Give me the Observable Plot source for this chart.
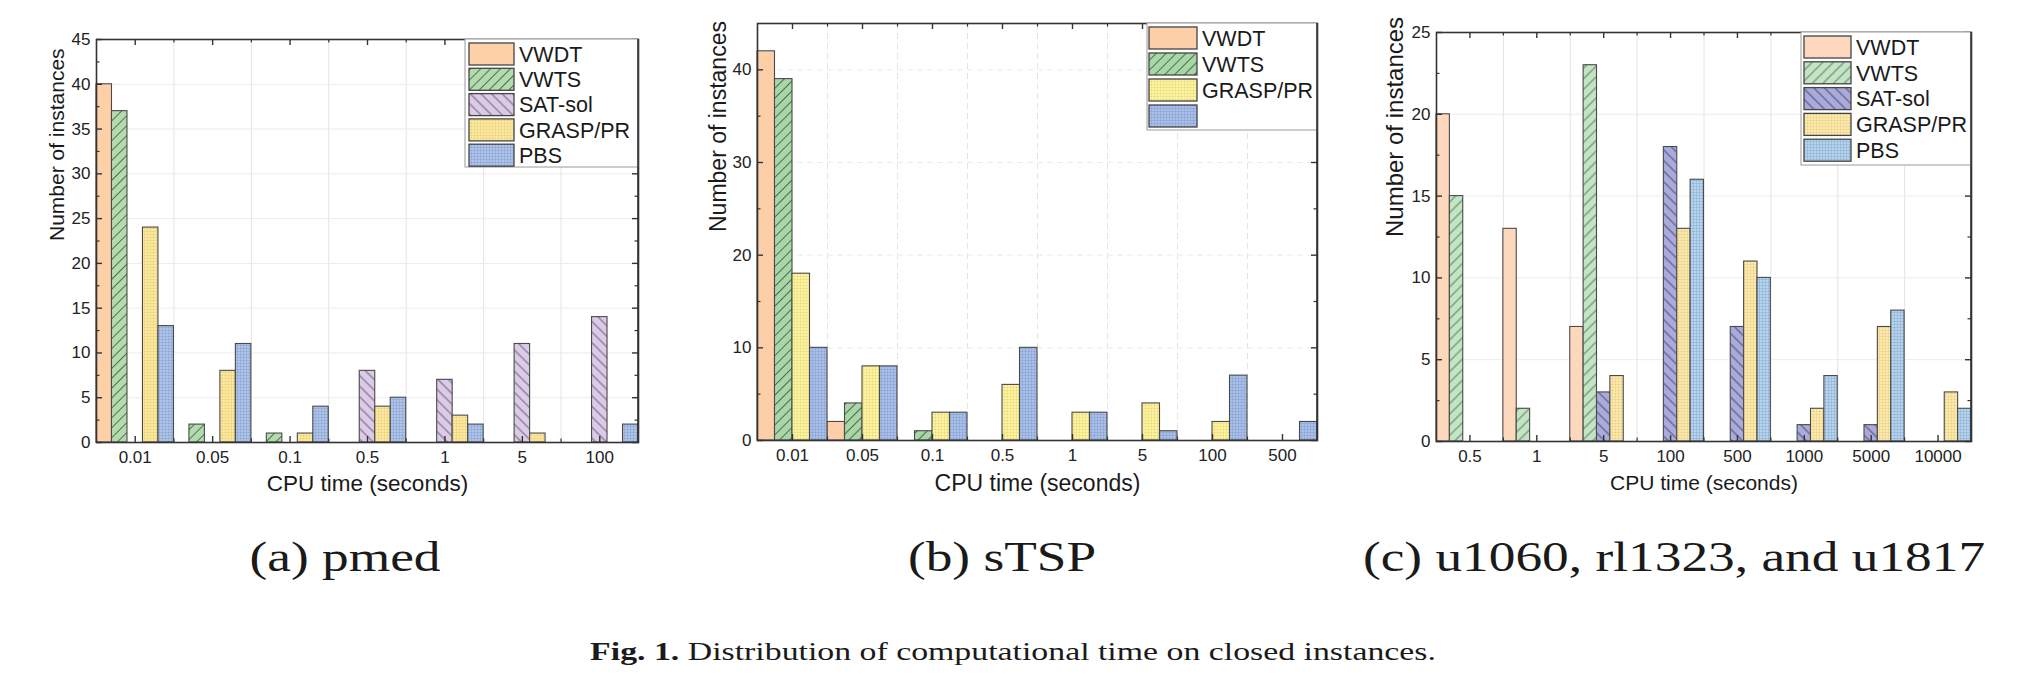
<!DOCTYPE html>
<html><head><meta charset="utf-8">
<script src="https://cdn.jsdelivr.net/npm/d3@7"></script>
<script src="https://cdn.jsdelivr.net/npm/@observablehq/plot@0.6"></script>
<style>
body{margin:0;background:#fff;}
#root{position:relative;width:2024px;height:686px;overflow:hidden;background:#fff;}
.panel{position:absolute;top:0;}
.cap{position:absolute;font-family:"Liberation Serif","Times New Roman",serif;color:#1a1a1a;white-space:nowrap;line-height:1;}
</style></head><body><div id="root"></div>
<script>
// ---------- data ----------
const catsA = ["0.01","0.05","0.1","0.5","1","5","100"];
const seriesA = ["VWDT","VWTS","SAT-sol","GRASP/PR","PBS"];
const vwdtA  = [40, 0, 0, 0, 0, 0, 0];
const vwtsA  = [37, 2, 1, 0, 0, 0, 0];
const satA   = [ 0, 0, 0, 8, 7, 11, 14];
const graspA = [24, 8, 1, 4, 3, 1, 0];
const pbsA   = [13, 11, 4, 5, 2, 0, 2];
const yTicksA = [0,5,10,15,20,25,30,35,40,45];

const catsB = ["0.01","0.05","0.1","0.5","1","5","100","500"];
const seriesB = ["VWDT","VWTS","GRASP/PR","PBS"];
const legendLabelsB = ["VWDT","VWTS","GRASP/PR",""];
const vwdtB  = [42, 2, 0, 0, 0, 0, 0, 0];
const vwtsB  = [39, 4, 1, 0, 0, 0, 0, 0];
const graspB = [18, 8, 3, 6, 3, 4, 2, 0];
const pbsB   = [10, 8, 3, 10, 3, 1, 7, 2];
const yTicksB = [0,10,20,30,40];

const catsC = ["0.5","1","5","100","500","1000","5000","10000"];
const seriesC = ["VWDT","VWTS","SAT-sol","GRASP/PR","PBS"];
const vwdtC  = [20, 13, 7, 0, 0, 0, 0, 0];
const vwtsC  = [15, 2, 23, 0, 0, 0, 0, 0];
const satC   = [ 0, 0, 3, 18, 7, 1, 1, 0];
const graspC = [ 0, 0, 4, 13, 11, 2, 7, 3];
const pbsC   = [ 0, 0, 0, 16, 10, 4, 8, 2];
const yTicksC = [0,5,10,15,20,25];

const xTitle = "CPU time (seconds)";
const yTitle = "Number of instances";
const subCaptions = ["(a) pmed", "(b) sTSP", "(c) u1060, rl1323, and u1817"];
const figLabel = "Fig. 1.";
const figText = "Distribution of computational time on closed instances.";

// ---------- helpers ----------
function addPattern(defs, id, spec) {
  const s = spec.spacing || 6;
  const p = defs.append("pattern").attr("id", id)
    .attr("patternUnits", "userSpaceOnUse").attr("width", s).attr("height", s);
  if (spec.type === "fwd") p.attr("patternTransform", "rotate(45)");
  if (spec.type === "back") p.attr("patternTransform", "rotate(-45)");
  p.append("rect").attr("width", s).attr("height", s).attr("fill", spec.bg);
  if (spec.type === "fwd" || spec.type === "back") {
    p.append("line").attr("x1", s/2).attr("x2", s/2).attr("y1", -1).attr("y2", s+1)
      .attr("stroke", spec.line).attr("stroke-width", spec.lw || 0.9).attr("stroke-opacity", spec.lo || 0.85);
  } else if (spec.type === "grid") {
    p.append("path").attr("d", `M0,0.5H${s}M0.5,0V${s}`).attr("fill", "none")
      .attr("stroke", spec.line).attr("stroke-width", 0.7).attr("stroke-opacity", 0.22);
  }
}

function makePanel(cfg) {
  const n = cfg.cats.length, ns = cfg.series.length;
  const pw = cfg.width - cfg.ml - cfg.mr, ph = cfg.height - cfg.mt - cfg.mb;
  const centers = d3.range(n).map(i => i + 0.5);
  const bounds = d3.range(1, n);
  const yMinor = d3.range(cfg.yMinorStep, cfg.yMax, cfg.yMinorStep).filter(v => !cfg.yTicks.includes(v));
  const marks = [];
  // faint grid
  marks.push(Plot.ruleX(bounds, {stroke: "#e4e4e4", strokeWidth: 1, strokeDasharray: cfg.gridDash || null}));
  marks.push(Plot.ruleY(cfg.yTicks.filter(v => v > 0 && v < cfg.yMax), {stroke: "#ececec", strokeWidth: 1, strokeDasharray: cfg.gridDash || null}));
  // bars
  cfg.values.forEach((vals, j) => {
    const rows = vals.map((v, i) => ({i, j, v})).filter(d => d.v > 0);
    marks.push(Plot.rect(rows, {
      x1: d => d.i + d.j / ns, x2: d => d.i + (d.j + 1) / ns,
      y1: 0, y2: d => d.v,
      fill: `url(#${cfg.id}-p${j})`, stroke: "#4a4a4a", strokeWidth: 1.1
    }));
  });
  // inward ticks
  const tc = "#333";
  marks.push(Plot.tickY(cfg.yTicks, {y: d => d, insetRight: pw - 6, stroke: tc, strokeWidth: 1.4}));
  marks.push(Plot.tickY(cfg.yTicks, {y: d => d, insetLeft: pw - 6, stroke: tc, strokeWidth: 1.4}));
  marks.push(Plot.tickY(yMinor, {y: d => d, insetRight: pw - 3.5, stroke: tc, strokeWidth: 1.2}));
  marks.push(Plot.tickY(yMinor, {y: d => d, insetLeft: pw - 3.5, stroke: tc, strokeWidth: 1.2}));
  marks.push(Plot.tickX(centers, {x: d => d, insetTop: ph - 6, stroke: tc, strokeWidth: 1.4}));
  marks.push(Plot.tickX(centers, {x: d => d, insetBottom: ph - 6, stroke: tc, strokeWidth: 1.4}));
  marks.push(Plot.tickX(bounds, {x: d => d, insetTop: ph - 3.5, stroke: tc, strokeWidth: 1.2}));
  marks.push(Plot.tickX(bounds, {x: d => d, insetBottom: ph - 3.5, stroke: tc, strokeWidth: 1.2}));
  marks.push(Plot.frame({stroke: "#333", strokeWidth: 1.6}));
  // axis titles
  marks.push(Plot.text([yTitle], {frameAnchor: "left", dx: cfg.yTitleDx, rotate: -90, lineAnchor: "middle", fontSize: cfg.yTitleSize, fill: "#1a1a1a"}));
  marks.push(Plot.text([xTitle], {frameAnchor: "bottom", dy: cfg.xTitleDy, lineAnchor: "middle", fontSize: cfg.xTitleSize, fill: "#1a1a1a"}));

  const svg = Plot.plot({
    width: cfg.width, height: cfg.height,
    marginTop: cfg.mt, marginRight: cfg.mr, marginBottom: cfg.mb, marginLeft: cfg.ml,
    style: {fontFamily: "'Liberation Sans', Arial, sans-serif", fontSize: "17px", color: "#222", background: "transparent"},
    x: {type: "linear", domain: [0, n], ticks: centers, tickFormat: t => cfg.cats[Math.floor(t)], tickSize: 0, tickPadding: 8, label: null},
    y: {domain: [0, cfg.yMax], ticks: cfg.yTicks, tickSize: 0, tickPadding: 6, label: null},
    marks
  });
  const s = d3.select(svg);
  const defs = s.insert("defs", ":first-child");
  cfg.patterns.forEach((p, j) => addPattern(defs, `${cfg.id}-p${j}`, p));
  // legend inside frame, top-right
  const L = cfg.legend;
  const g = s.append("g").attr("class", "legend").attr("text-anchor", "start");
  g.append("rect").attr("x", L.x).attr("y", cfg.mt).attr("width", cfg.width - cfg.mr - L.x).attr("height", L.h)
    .attr("fill", "#fff").attr("stroke", "#9a9a9a").attr("stroke-width", 1);
  cfg.legendLabels.forEach((lab, j) => {
    const cy = L.row0 + j * L.step;
    g.append("rect").attr("x", L.sx).attr("y", cy - L.sh / 2).attr("width", L.sw).attr("height", L.sh)
      .attr("fill", `url(#${cfg.id}-p${j})`).attr("stroke", "#444").attr("stroke-width", 1.3);
    g.append("text").attr("x", L.tx).attr("y", cy).attr("dy", "0.36em").attr("text-anchor", "start")
      .attr("font-size", L.fs).attr("fill", "#1a1a1a").text(lab);
  });
  s.append("line").attr("x1", cfg.width - cfg.mr).attr("x2", cfg.width - cfg.mr)
    .attr("y1", cfg.mt).attr("y2", cfg.height - cfg.mb).attr("stroke", "#333").attr("stroke-width", 1.6);
  svg.classList.add("panel");
  svg.style.left = cfg.left + "px";
  return svg;
}

const root = document.getElementById("root");

root.appendChild(makePanel({
  id: "pa", left: 0, width: 660, height: 500, mt: 39, mr: 22, mb: 58, ml: 96,
  cats: catsA, series: seriesA, legendLabels: seriesA,
  values: [vwdtA, vwtsA, satA, graspA, pbsA],
  yMax: 45, yTicks: yTicksA, yMinorStep: 2.5,
  patterns: [
    {type: "solid", bg: "#fdd0a8"},
    {type: "fwd", bg: "#b4dbae", line: "#2f4f33", spacing: 7},
    {type: "back", bg: "#dccbe6", line: "#4b3d5c", spacing: 7.5},
    {type: "grid", bg: "#fce99f", line: "#b59a2a", spacing: 3},
    {type: "grid", bg: "#adc3ea", line: "#3a5a8a", spacing: 3}
  ],
  legend: {x: 465, h: 128, sx: 469, sw: 45, sh: 22, row0: 54, step: 25.3, tx: 519, fs: 21.5},
  yTitleDx: -39, yTitleSize: 21, xTitleDy: 41, xTitleSize: 22.5
}));

root.appendChild(makePanel({
  id: "pb", left: 680, width: 660, height: 500, mt: 23, mr: 23, mb: 60, ml: 77,
  cats: catsB, series: seriesB, legendLabels: legendLabelsB,
  values: [vwdtB, vwtsB, graspB, pbsB],
  yMax: 45, yTicks: yTicksB, yMinorStep: 5, gridDash: "6,4",
  patterns: [
    {type: "solid", bg: "#fdcfa9"},
    {type: "fwd", bg: "#a9d6a6", line: "#2f4f33", spacing: 7},
    {type: "grid", bg: "#fdf3a0", line: "#b5a22a", spacing: 3},
    {type: "grid", bg: "#a9bfea", line: "#3a5a8a", spacing: 3}
  ],
  legend: {x: 467, h: 107, sx: 469, sw: 48, sh: 22, row0: 38, step: 26, tx: 522, fs: 21.5},
  yTitleDx: -39, yTitleSize: 23, xTitleDy: 43, xTitleSize: 23
}));

root.appendChild(makePanel({
  id: "pc", left: 1360, width: 664, height: 500, mt: 32, mr: 53, mb: 59, ml: 76,
  cats: catsC, series: seriesC, legendLabels: seriesC,
  values: [vwdtC, vwtsC, satC, graspC, pbsC],
  yMax: 25, yTicks: yTicksC, yMinorStep: 2.5,
  patterns: [
    {type: "solid", bg: "#fdd8bc"},
    {type: "fwd", bg: "#c4e4c6", line: "#3a5a3e", spacing: 7.5},
    {type: "back", bg: "#aaaadb", line: "#2e2e50", spacing: 7.5},
    {type: "grid", bg: "#fde8b0", line: "#b59a2a", spacing: 3},
    {type: "grid", bg: "#b5d3ee", line: "#3a5a8a", spacing: 3}
  ],
  legend: {x: 441, h: 133, sx: 444, sw: 47, sh: 22, row0: 47, step: 25.8, tx: 496, fs: 21.5},
  yTitleDx: -41, yTitleSize: 24, xTitleDy: 42, xTitleSize: 21
}));

// captions
const capPos = [345, 1002, 1674];
subCaptions.forEach((t, k) => {
  const d = document.createElement("div");
  d.className = "cap";
  d.style.left = capPos[k] + "px";
  d.style.top = "557px";
  d.style.fontSize = "42px";
  d.style.transform = "translate(-50%,-50%) scaleX(1.27)";
  d.textContent = t;
  root.appendChild(d);
});
const fig = document.createElement("div");
fig.className = "cap";
fig.style.left = "1013px";
fig.style.top = "652px";
fig.style.fontSize = "26px";
fig.style.transform = "translate(-50%,-50%) scaleX(1.3)";
const b = document.createElement("b");
b.textContent = figLabel;
fig.appendChild(b);
fig.appendChild(document.createTextNode("  " + figText));
root.appendChild(fig);
</script></body></html>
